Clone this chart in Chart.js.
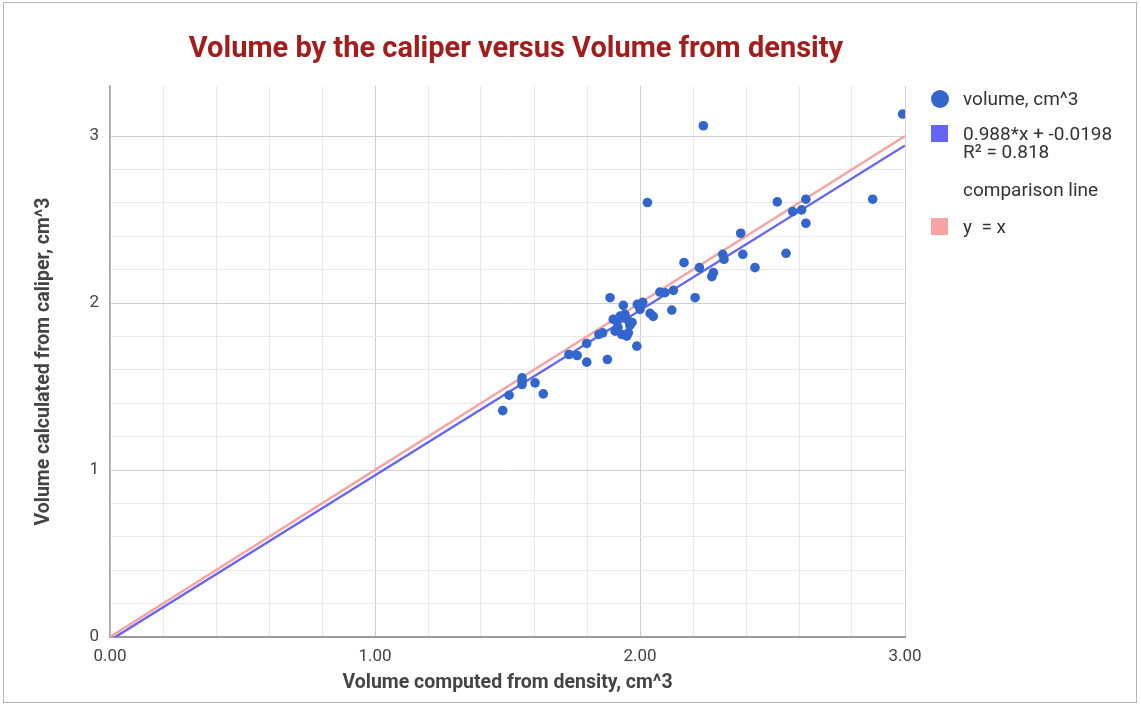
<!DOCTYPE html>
<html>
<head>
<meta charset="utf-8">
<script src="https://cdn.jsdelivr.net/npm/chart.js@4/dist/chart.umd.min.js"></script>
<style>
  html, body { margin: 0; padding: 0; background: #fff; }
  #wrap { position: relative; width: 1141px; height: 707px; font-family: Roboto, Arial, sans-serif; }
  #c { position: absolute; left: 0; top: 0; }
  #frame { position: absolute; left: 3px; top: 2px; width: 1134px; height: 701px; border: 1px solid #b4b4b4; box-sizing: border-box; pointer-events: none; }
  #title { position: absolute; left: 0; width: 1032px; top: 29px; text-align: center; font: bold 29px Roboto, Arial, sans-serif; color: #a31d1d; line-height: 36px; }
  .lg { position: absolute; left: 963px; font-size: 19px; color: #333; line-height: 18px; white-space: nowrap; }
  .mk { position: absolute; }
</style>
</head>
<body>
<div id="wrap">
  <canvas id="c" width="1141" height="707"></canvas>
  <div id="title">Volume by the caliper versus Volume from density</div>
  <div class="mk" style="left:931px;top:90px;width:18px;height:18px;border-radius:50%;background:#3366cc"></div>
  <div class="lg" style="top:90px">volume, cm^3</div>
  <div class="mk" style="left:931px;top:125px;width:17px;height:17px;background:#6464f5"></div>
  <div class="lg" style="top:125px">0.988*x + -0.0198<br>R² = 0.818</div>
  <div class="lg" style="top:181px">comparison line</div>
  <div class="mk" style="left:931px;top:218px;width:17px;height:17px;background:#f5a3a3"></div>
  <div class="lg" style="top:218px">y&nbsp; = x</div>
  <div id="frame"></div>
</div>
<script>
// Measured data: volume from density (x) vs volume from caliper (y), cm^3
const volDensity = [1.482, 1.506, 1.555, 1.555, 1.555, 1.604, 1.635, 1.732, 1.763, 1.799,
  1.799, 1.845, 1.859, 1.877, 1.887, 1.899, 1.906, 1.925, 1.931, 1.937,
  1.943, 1.950, 1.956, 1.962, 1.970, 1.988, 1.990, 2.000, 2.010, 2.028,
  2.038, 2.050, 2.075, 2.094, 2.120, 2.126, 2.166, 2.208, 2.224, 2.239,
  2.271, 2.277, 2.312, 2.317, 2.380, 2.388, 2.434, 2.518, 2.551, 2.576,
  2.610, 2.626, 2.626, 2.878, 2.991, 1.913, 1.951, 1.917];
const volCaliper = [1.356, 1.448, 1.552, 1.532, 1.512, 1.522, 1.456, 1.692, 1.686, 1.758,
  1.646, 1.812, 1.822, 1.662, 2.032, 1.902, 1.832, 1.922, 1.812, 1.986,
  1.932, 1.802, 1.822, 1.866, 1.884, 1.742, 1.992, 1.962, 2.004, 2.602,
  1.938, 1.920, 2.066, 2.062, 1.958, 2.076, 2.242, 2.032, 2.212, 3.062,
  2.158, 2.182, 2.292, 2.262, 2.418, 2.292, 2.212, 2.606, 2.298, 2.548,
  2.558, 2.622, 2.478, 2.622, 3.132, 1.890, 1.902, 1.854];
// Line endpoints
const lineX = [0, 3];
const trendY = [-0.0198, 2.9442];   // 0.988*x + -0.0198
const identityY = [0, 3];           // y = x
const xTickLabels = ['0.00', '1.00', '2.00', '3.00'];
const yTickLabels = ['0', '1', '2', '3'];

const pts = volDensity.map((x, i) => ({ x, y: volCaliper[i] }));
const trend = lineX.map((x, i) => ({ x, y: trendY[i] }));
const ident = lineX.map((x, i) => ({ x, y: identityY[i] }));

const isInt = v => Math.abs(v - Math.round(v)) < 1e-6;
const gridColor = ctx => (ctx.tick && isInt(ctx.tick.value)) ? '#cfcfcf' : '#e8e8e8';
const tickFont = { family: 'Roboto, Arial, sans-serif', size: 17 };
const axisTitleFont = { family: 'Roboto, Arial, sans-serif', size: 19.5, weight: 'bold' };

new Chart(document.getElementById('c'), {
  type: 'scatter',
  data: {
    datasets: [
      { label: 'volume, cm^3', data: pts, backgroundColor: '#3366cc', borderWidth: 0, pointRadius: 4.8, pointHoverRadius: 4.8, order: 0 },
      { label: 'y = x', data: ident, showLine: true, borderColor: '#f5a3a3', borderWidth: 2.4, pointRadius: 0, order: 2 },
      { label: '0.988*x + -0.0198', data: trend, showLine: true, borderColor: '#6464f5', borderWidth: 2.4, pointRadius: 0, order: 1 }
    ]
  },
  options: {
    responsive: false,
    animation: false,
    layout: { padding: { left: 0, right: 236, top: 86, bottom: 0 } },
    plugins: { legend: { display: false }, title: { display: false }, tooltip: { enabled: false } },
    scales: {
      x: {
        type: 'linear', min: 0, max: 3,
        afterFit: s => { s.height = 70; },
        ticks: {
          stepSize: 0.2, autoSkip: false, maxRotation: 0, padding: 10,
          color: '#444', font: tickFont,
          callback: v => isInt(v) ? xTickLabels[Math.round(v)] : ''
        },
        grid: { color: gridColor, drawTicks: false, lineWidth: 1 },
        border: { color: '#9a9a9a', width: 2 },
        title: { display: true, text: 'Volume computed from density, cm^3', color: '#444',
                 font: axisTitleFont, padding: { top: 0, bottom: 12 } }
      },
      y: {
        type: 'linear', min: 0, max: 3.3,
        afterFit: s => { s.width = 110; },
        afterBuildTicks: s => { s.ticks = s.ticks.filter(t => t.value <= 3.2001); },
        ticks: {
          stepSize: 0.2, autoSkip: false, padding: 11,
          color: '#444', font: tickFont,
          callback: v => isInt(v) ? yTickLabels[Math.round(v)] : ''
        },
        grid: { color: gridColor, drawTicks: false, lineWidth: 1 },
        border: { color: '#a8a8a8', width: 1.5 },
        title: { display: true, text: 'Volume calculated from caliper, cm^3', color: '#444',
                 font: axisTitleFont, padding: { top: 32, bottom: 0 } }
      }
    }
  }
});
</script>
</body>
</html>
